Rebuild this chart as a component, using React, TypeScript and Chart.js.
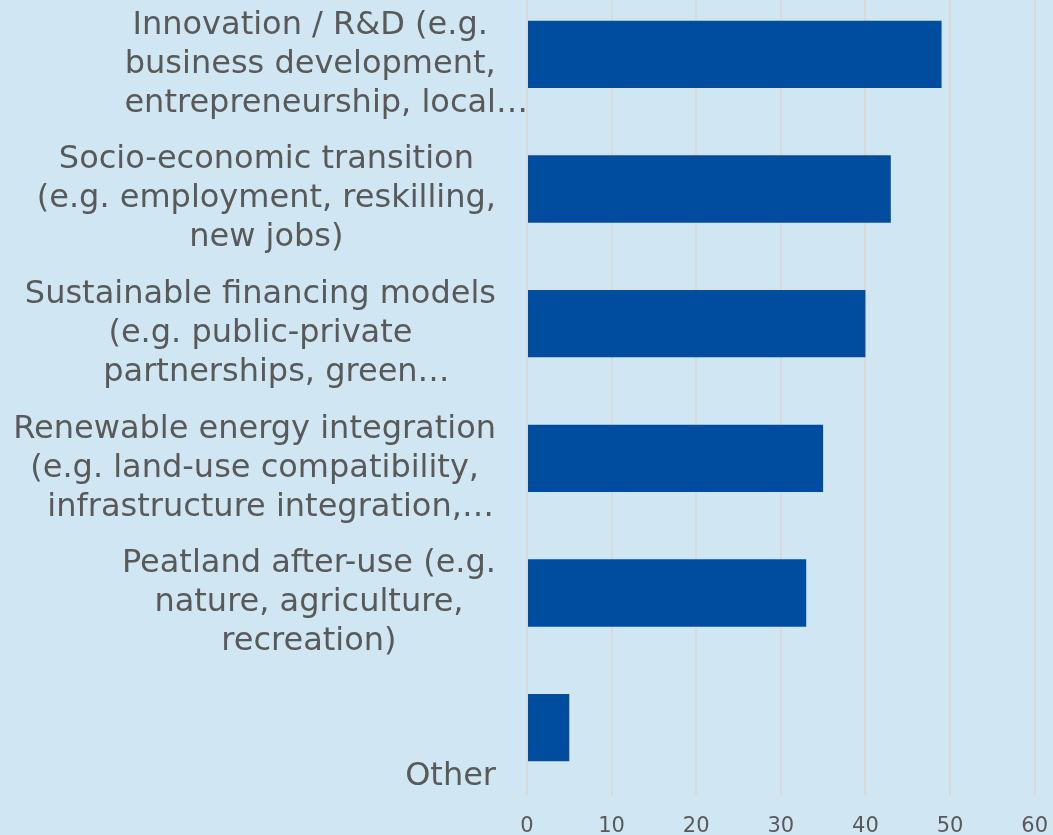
import React, { useEffect, useRef } from "react";
import { Chart, registerables } from "chart.js";

Chart.register(...registerables);

const categories: string[][] = [
  ["Innovation / R&D (e.g.", "business development,", "entrepreneurship, local…"],
  ["Socio-economic transition", "(e.g. employment, reskilling,", "new jobs)"],
  ["Sustainable financing models", "(e.g. public-private", "partnerships, green…"],
  ["Renewable energy integration", "(e.g. land-use compatibility,", "infrastructure integration,…"],
  ["Peatland after-use (e.g.", "nature, agriculture,", "recreation)"],
  ["", "", "Other"],
];
const values: number[] = [49, 43, 40, 35, 33, 5];
const xMin = 0;
const xMax = 60;
const xStep = 10;

const BG = "#D0E7F3";
const BAR = "#004C9F";
const GRID = "#D9D9D9";
const TEXT = "#595959";
const FONT = "'DejaVu Sans', Verdana, sans-serif";

const labelPlugin = {
  id: "blockLabels",
  afterDraw(chart: any) {
    const ctx = chart.ctx as CanvasRenderingContext2D;
    const yScale = chart.scales.y;
    const right = 496;
    const lineH = 39;
    const midOffset = 18.2;
    ctx.save();
    ctx.font = `32px ${FONT}`;
    ctx.fillStyle = TEXT;
    ctx.textAlign = "left";
    ctx.textBaseline = "alphabetic";
    categories.forEach((lines, i) => {
      const yc = yScale.getPixelForValue(i) + midOffset;
      const widths = lines.map((l) => ctx.measureText(l.replace(/…$/, "")).width);
      const maxW = Math.max(...widths);
      const cx = right - maxW / 2;
      const n = lines.length;
      lines.forEach((l, k) => {
        const y = yc + (k - (n - 1) / 2) * lineH;
        ctx.fillText(l, cx - widths[k] / 2, y);
      });
    });
    ctx.restore();
  },
};

export default function App() {
  const ref = useRef<HTMLCanvasElement | null>(null);
  useEffect(() => {
    if (!ref.current) return;
    const chart = new Chart(ref.current, {
      type: "bar",
      data: {
        labels: categories,
        datasets: [
          {
            data: values,
            backgroundColor: BAR,
            borderWidth: 0,
            barPercentage: 0.5,
            categoryPercentage: 1,
          },
        ],
      },
      options: {
        indexAxis: "y",
        animation: false,
        responsive: false,
        devicePixelRatio: 1,
        layout: { padding: { top: 7, right: 0, left: 0, bottom: 0 } },
        plugins: {
          legend: { display: false },
          tooltip: { enabled: false },
          title: { display: false },
        },
        scales: {
          x: {
            type: "linear",
            position: "bottom",
            min: xMin,
            max: xMax,
            ticks: {
              stepSize: xStep,
              color: TEXT,
              font: { family: FONT, size: 21 },
              padding: 19,
            },
            grid: { color: GRID, lineWidth: 2, drawTicks: false, tickLength: 0 },
            border: { display: false },
            afterFit: (s: any) => {
              s.height = 40;
            },
          },
          y: {
            type: "category",
            grid: { display: false, drawTicks: false },
            ticks: { display: false },
            border: { display: false },
            afterFit: (s: any) => {
              s.width = 527;
            },
          },
        },
      },
      plugins: [labelPlugin],
    });
    return () => chart.destroy();
  }, []);

  return (
    <div
      style={{
        position: "fixed",
        left: 0,
        top: 0,
        width: 1053,
        height: 835,
        overflow: "hidden",
        background: BG,
      }}
    >
      <canvas
        ref={ref}
        width={1067}
        height={855}
        style={{ position: "absolute", left: 0, top: -20, width: 1067, height: 855 }}
      />
    </div>
  );
}
